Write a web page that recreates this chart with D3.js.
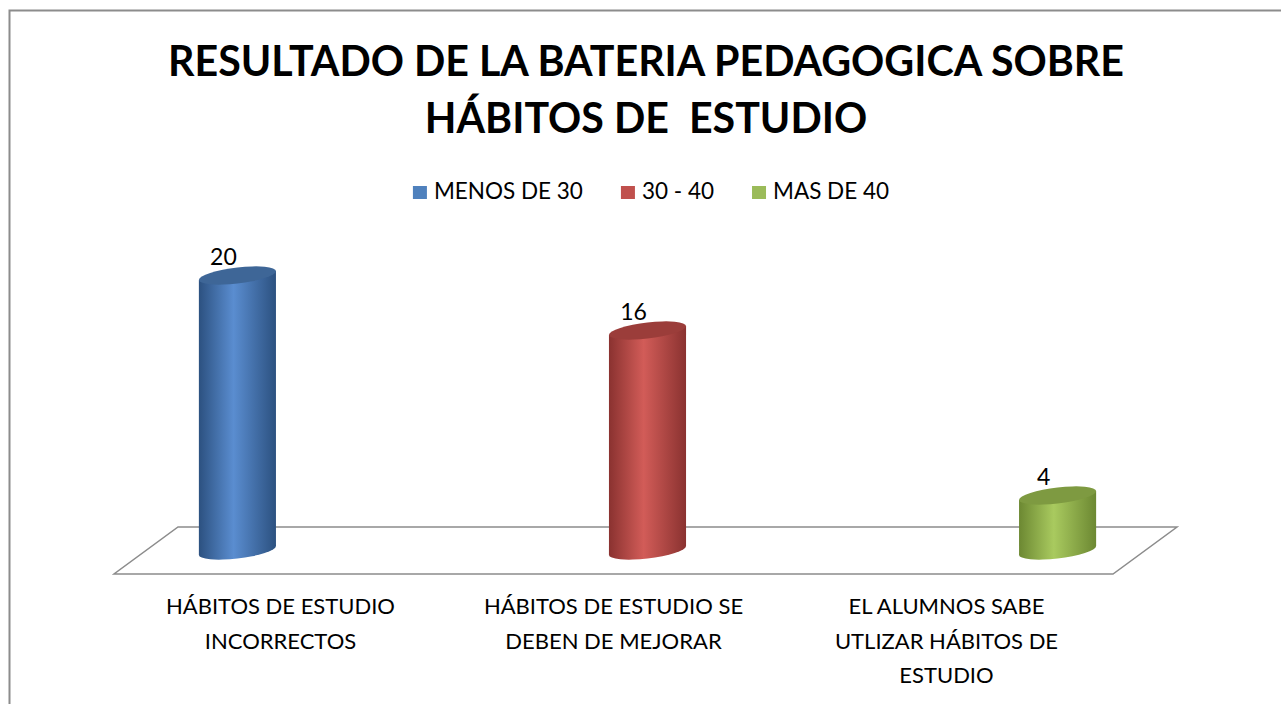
<!DOCTYPE html>
<html>
<head>
<meta charset="utf-8">
<style type="text/css">
    body { margin: 0; background: #fff; }
    svg { display: block; }
    text { font-family: Lato, "Open Sans", sans-serif; fill: #000; }
    .title { font-weight: bold; text-anchor: middle; }
    .catLabel { text-anchor: middle; font-size: 22px; }
    .valLabel { text-anchor: middle; font-size: 23px; }
    .legend text { font-size: 22.5px; }
</style>
<script src="https://d3js.org/d3.v7.min.js"></script>
</head>
<body>
<svg id="chart" width="1281" height="704"></svg>
<script type="text/javascript">
// data
const titleLines = ["RESULTADO DE LA BATERIA PEDAGOGICA SOBRE", "HÁBITOS DE  ESTUDIO"];
const categories = [
    "HÁBITOS DE ESTUDIO\nINCORRECTOS",
    "HÁBITOS DE ESTUDIO SE\nDEBEN DE MEJORAR",
    "EL ALUMNOS SABE\nUTLIZAR HÁBITOS DE\nESTUDIO"
];
const seriesNames = ["MENOS DE 30", "30 - 40", "MAS DE 40"];
const values = [20, 16, 4];   // series i sits in category i
const colors = {
    "MENOS DE 30": { mid: "#5a8dd0", edge: "#2c5180", top: "#3e6697", key: "#4f81bd" },
    "30 - 40":     { mid: "#d25c58", edge: "#8a3230", top: "#9b3d3a", key: "#c0504d" },
    "MAS DE 40":   { mid: "#a9ca5f", edge: "#6c8832", top: "#7e9a41", key: "#9bbb59" }
};

const svg = d3.select('#chart');

// outer frame (runs off the right and bottom edge like the original)
svg.append('rect')
    .attr('x', 9.5).attr('y', 10.5)
    .attr('width', 1400).attr('height', 800)
    .attr('fill', 'none')
    .attr('stroke', '#8c8c8c')
    .attr('stroke-width', 2);

// title, sized to the original width
const title = svg.append('g');
titleLines.forEach((t, i) => {
    title.append('text')
        .attr('class', 'title')
        .attr('x', 646)
        .attr('y', 76 + i * 57)
        .attr('font-size', 40)
        .style('white-space', 'pre')
        .text(t);
});
const w0 = title.select('text').node().getComputedTextLength();
title.selectAll('text').attr('font-size', 40 * 956 / w0);

// legend
const legend = svg.append('g').attr('class', 'legend');
const items = legend.selectAll('g')
    .data(seriesNames)
    .enter()
    .append('g');
items.append('rect')
    .attr('width', 14).attr('height', 13)
    .attr('y', -13)
    .attr('fill', d => colors[d].key);
items.append('text')
    .attr('x', 21)
    .attr('y', 0)
    .text(d => d);
let lx = 0;
items.each(function() {
    d3.select(this).attr('transform', 'translate(' + lx + ',0)');
    lx += this.getBBox().width + 38;
});
lx -= 38;
legend.attr('transform', 'translate(' + (651 - lx / 2) + ',199)');

// floor + scales
const floorFront = 574, floorLeft = 114, floorRight = 1113;
const depthX = 64, depthY = -47;

const x0 = d3.scaleBand()
    .domain(categories)
    .range([floorLeft, floorRight]);
const x1 = d3.scaleBand()
    .domain(seriesNames)
    .range([0, x0.bandwidth()])
    .paddingOuter(0.66);
const baseY = floorFront + depthY / 2;
const y = d3.scaleLinear()
    .domain([0, 20])
    .range([baseY, baseY - 275]);

svg.append('path')
    .attr('d', d3.line()([
        [floorLeft, floorFront], [floorRight, floorFront],
        [floorRight + depthX, floorFront + depthY], [floorLeft + depthX, floorFront + depthY]
    ]) + 'Z')
    .attr('fill', 'none')
    .attr('stroke', '#8c8c8c')
    .attr('stroke-width', 1.5);

// gradients for the cylinders
const defs = svg.append('defs');
seriesNames.forEach((s, i) => {
    const g = defs.append('linearGradient')
        .attr('id', 'grad' + i)
        .attr('x1', 0).attr('x2', 1).attr('y1', 0).attr('y2', 0);
    g.append('stop').attr('offset', '0%').attr('stop-color', colors[s].edge);
    g.append('stop').attr('offset', '45%').attr('stop-color', colors[s].mid);
    g.append('stop').attr('offset', '100%').attr('stop-color', colors[s].edge);
});

// bars
const bars = seriesNames.map((s, i) => ({ series: s, cat: categories[i], value: values[i], i: i }));
const rx = x1.bandwidth() / 2, ry = 8;
const barX = d => x0(d.cat) + depthX / 2 + x1(d.series) + rx + 2;

const cyl = svg.append('g').selectAll('g')
    .data(bars)
    .enter()
    .append('g')
    .attr('transform', d => 'translate(' + barX(d) + ',0) skewY(-6.5)');

cyl.append('ellipse')
    .attr('cx', 0).attr('cy', baseY)
    .attr('rx', rx).attr('ry', ry)
    .attr('fill', d => 'url(#grad' + d.i + ')');
cyl.append('rect')
    .attr('x', -rx)
    .attr('y', d => y(d.value))
    .attr('width', rx * 2)
    .attr('height', d => baseY - y(d.value))
    .attr('fill', d => 'url(#grad' + d.i + ')');
cyl.append('ellipse')
    .attr('cx', 0).attr('cy', d => y(d.value))
    .attr('rx', rx).attr('ry', ry)
    .attr('fill', d => colors[d.series].top);

// value labels
svg.append('g').selectAll('text')
    .data(bars)
    .enter()
    .append('text')
    .attr('class', 'valLabel')
    .attr('x', d => barX(d) - 14)
    .attr('y', d => y(d.value) - 11)
    .text(d => d.value);

// category labels along the front edge
const cats = svg.append('g').selectAll('text')
    .data(categories)
    .enter()
    .append('text')
    .attr('class', 'catLabel')
    .attr('x', d => x0(d) + x0.bandwidth() / 2)
    .attr('y', 614);
cats.selectAll('tspan')
    .data(d => d.split('\n'))
    .enter()
    .append('tspan')
    .attr('x', function() { return d3.select(this.parentNode).attr('x'); })
    .attr('dy', (d, i) => i === 0 ? 0 : 34.5)
    .text(d => d);
</script>
</body>
</html>
